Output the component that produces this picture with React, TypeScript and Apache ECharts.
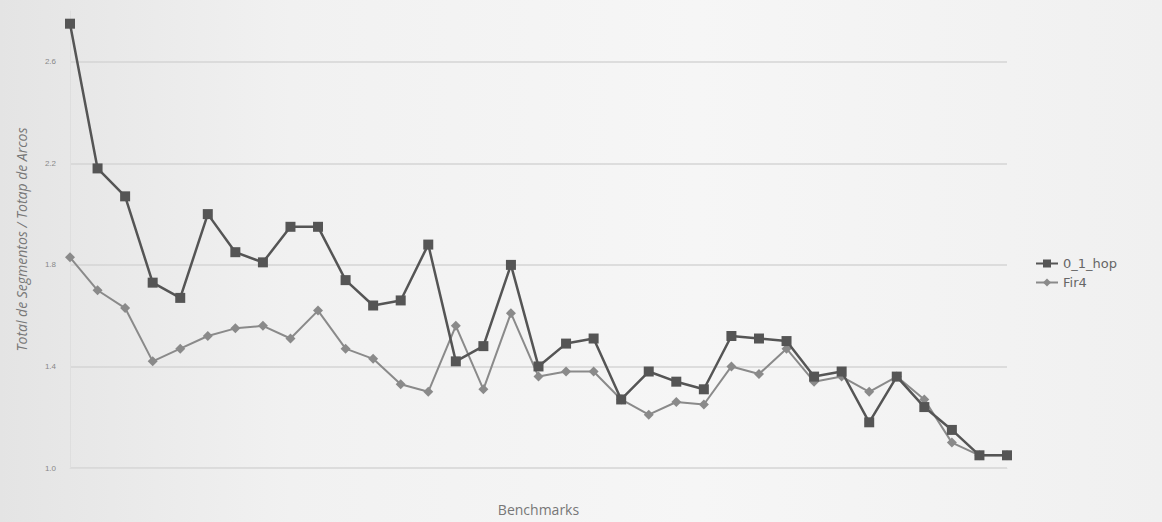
import React, { useEffect, useRef } from "react";
import * as echarts from "echarts";

const categories: string[] = Array.from({ length: 35 }, (_, i) => `B${i + 1}`);

const hopValues: number[] = [
  2.75, 2.18, 2.07, 1.73, 1.67, 2.0, 1.85, 1.81, 1.95, 1.95,
  1.74, 1.64, 1.66, 1.88, 1.42, 1.48, 1.8, 1.4, 1.49, 1.51,
  1.27, 1.38, 1.34, 1.31, 1.52, 1.51, 1.5, 1.36, 1.38, 1.18,
  1.36, 1.24, 1.15, 1.05, 1.05,
];

const fir4Values: number[] = [
  1.83, 1.7, 1.63, 1.42, 1.47, 1.52, 1.55, 1.56, 1.51, 1.62,
  1.47, 1.43, 1.33, 1.3, 1.56, 1.31, 1.61, 1.36, 1.38, 1.38,
  1.27, 1.21, 1.26, 1.25, 1.4, 1.37, 1.47, 1.34, 1.36, 1.3,
  1.36, 1.27, 1.1, 1.05, 1.05,
];

const seriesNames: string[] = ["0_1_hop", "Fir4"];
const yTitle = "Total de Segmentos / Totap de Arcos";
const xTitle = "Benchmarks";

export default function App() {
  const ref = useRef<HTMLDivElement>(null);

  useEffect(() => {
    if (!ref.current) return;
    const chart = echarts.init(ref.current, undefined, { renderer: "svg" });
    chart.setOption({
      animation: false,
      backgroundColor: "transparent",
      grid: { left: 70, right: 155, top: 11, bottom: 54 },
      legend: {
        orient: "vertical",
        left: 1030,
        top: 252,
        itemGap: 6,
        itemWidth: 22,
        itemHeight: 10,
        textStyle: { color: "#666", fontSize: 13, fontFamily: "DejaVu Sans" },
        data: seriesNames,
      },
      xAxis: {
        type: "category",
        data: categories,
        boundaryGap: false,
        name: xTitle,
        nameLocation: "middle",
        nameGap: 34,
        nameTextStyle: { color: "#777", fontSize: 14, fontFamily: "Open Sans" },
        axisLine: { show: true, lineStyle: { color: "#dcdcdc" } },
        axisTick: { show: false },
        axisLabel: { show: false },
        splitLine: { show: false },
      },
      yAxis: {
        type: "value",
        min: 1.0,
        max: 2.8,
        interval: 0.4,
        name: yTitle,
        nameLocation: "middle",
        nameGap: 42,
        nameTextStyle: {
          color: "#777",
          fontSize: 14,
          fontStyle: "italic",
          fontFamily: "Open Sans",
        },
        axisLine: { show: true, lineStyle: { color: "#dedede" } },
        axisTick: { show: false },
        axisLabel: {
          color: "#888",
          fontSize: 8,
          margin: 14,
          showMaxLabel: false,
          formatter: (v: number) => v.toFixed(1),
        },
        splitLine: {
          show: true,
          showMaxLine: false,
          lineStyle: { color: "#d4d4d4", width: 1.5 },
        },
      },
      series: [
        {
          name: seriesNames[0],
          type: "line",
          data: hopValues,
          symbol: "rect",
          symbolSize: 10,
          z: 3,
          lineStyle: { color: "#555", width: 2.5 },
          itemStyle: { color: "#555" },
        },
        {
          name: seriesNames[1],
          type: "line",
          data: fir4Values,
          symbol: "diamond",
          symbolSize: 10,
          z: 2,
          lineStyle: { color: "#8a8a8a", width: 2 },
          itemStyle: { color: "#8a8a8a" },
        },
      ],
    });
    return () => chart.dispose();
  }, []);

  return (
    <div
      ref={ref}
      style={{
        position: "fixed",
        left: 0,
        top: 0,
        width: 1162,
        height: 522,
        background: "linear-gradient(90deg, #e4e4e4 0%, #f1f1f1 25%, #f6f6f6 60%, #f0f0f0 100%)",
      }}
    />
  );
}
